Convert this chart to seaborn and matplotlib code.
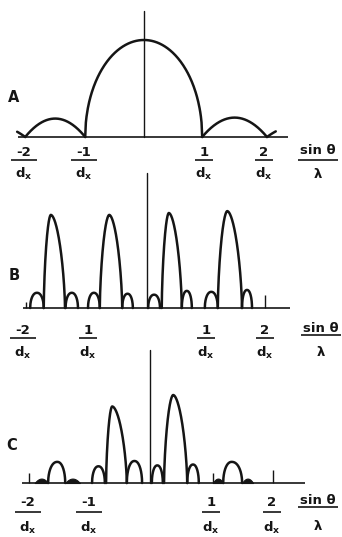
import numpy as np
import pandas as pd
import matplotlib
matplotlib.use("Agg")
import matplotlib.pyplot as plt
import seaborn as sns

# ---------------------------------------------------------------
# Diffraction intensity lobes, x in units of 1/d_x (sin(theta)/lambda),
# heights relative to the tallest lobe of each pattern.
# ---------------------------------------------------------------

# A: single aperture envelope
A_START  = [-3.00, -1.98, -0.98, 0.97, 2.05]
A_PEAK   = [-2.50, -1.48,  0.00, 1.51, 2.57]
A_END    = [-1.98, -0.98,  0.97, 2.05, 3.09]
A_HEIGHT = [ 0.12,  0.19,  1.00, 0.20, 0.12]

# B: grating orders with subsidiary maxima
B_START  = [-1.98, -1.75, -1.38, -1.00, -0.80, -0.42, 0.02, 0.25, 0.59, 0.98, 1.20, 1.61]
B_PEAK   = [-1.865, -1.63, -1.275, -0.90, -0.64, -0.33, 0.12, 0.37, 0.675, 1.09, 1.36, 1.695]
B_END    = [-1.75, -1.39, -1.17, -0.80, -0.42, -0.24, 0.22, 0.59, 0.76, 1.20, 1.61, 1.78]
B_HEIGHT = [ 0.16,  0.98,  0.16,  0.16,  0.98,  0.15, 0.14, 1.00, 0.18, 0.17, 1.02, 0.19]
B_TICK_X = [-2.05, 2.00]
B_TICK_H = [0.06, 0.14]

# C: two strong orders, weak outer orders
C_START  = [-1.67, -0.95, -0.72, -0.38, 0.03, 0.23, 0.61, 1.20]
C_PEAK   = [-1.52, -0.845, -0.62, -0.255, 0.12, 0.38, 0.705, 1.34]
C_END    = [-1.39, -0.74, -0.38, -0.13, 0.21, 0.61, 0.80, 1.51]
C_HEIGHT = [ 0.24,  0.19,  0.87,  0.25, 0.20, 1.00, 0.21, 0.24]
C_LUMP_START  = [-1.89, -1.39, 1.03, 1.51]
C_LUMP_END    = [-1.67, -1.15, 1.20, 1.69]
C_LUMP_HEIGHT = [0.05, 0.05, 0.05, 0.05]
C_TICK_X = [-1.98, 1.03, 2.02]
C_TICK_H = [0.11, 0.11, 0.15]

TICK_VALUES = [-2, -1, 1, 2]
A_TICK_TEXT = ["-2", "-1", "1", "2"]
B_TICK_TEXT = ["-2", "1", "1", "2"]
C_TICK_TEXT = ["-2", "-1", "1", "2"]
PANEL_NAMES = ["A", "B", "C"]

# ---------------------------------------------------------------
INK = "#151515"
W, H, DPI = 342, 537, 100

sns.set_theme(style="white")
plt.rcParams["font.family"] = ["DejaVu Sans"]
plt.rcParams["mathtext.fontset"] = "dejavusans"

fig = plt.figure(figsize=(W / DPI, H / DPI), dpi=DPI)
fig.patch.set_facecolor("white")

# pixel geometry of each panel: centre column, px per 1/d_x, baseline row, px per unit height
LAYOUT = {
    "A": dict(cx=144, sx=60, base=137, sy=97, top=1.30, span=(-2.10, 2.40), clip=(-2.12, 2.20),
              label=(14, 98), num=15, bar=23, den=37, title=(318, 13, 23, 37), nudge=(0, 0)),
    "B": dict(cx=147, sx=59, base=308, sy=95, top=1.42, span=(-2.10, 2.42), clip=(-9, 9),
              label=(14, 276), num=22, bar=30, den=45, title=(321, 20, 27, 44), nudge=(-0.1, 0)),
    "C": dict(cx=150, sx=61, base=483, sy=88, top=1.51, span=(-2.10, 2.54), clip=(-9, 9),
              label=(12, 445), num=20, bar=29, den=45, title=(318, 17, 24, 43), nudge=(0, 0)),
}
SHAPES = {
    "A": ["parab", "parab", "dome", "parab", "parab"],
    "B": ["small", "main", "small", "small", "main", "small",
          "small", "main", "small", "small", "main", "small"],
    "C": ["small", "small", "main", "small", "small", "main", "small", "small"],
}
# (p, q) of the arch profile  h * (1 - |u|^p)^q
SHAPE_PARAMS = {"parab": (2.0, 1.0), "dome": (2.0, 0.5), "main": (1.8, 0.65), "small": (2.2, 0.5)}


def arch(start, peak, end, height, shape, n=90):
    p, q = SHAPE_PARAMS[shape]
    xl = np.linspace(start, peak, n)
    xr = np.linspace(peak, end, n)[1:]
    ul = (peak - xl) / (peak - start)
    ur = (xr - peak) / (end - peak)
    x = np.concatenate([xl, xr])
    u = np.concatenate([ul, ur])
    y = height * np.clip(1 - np.abs(u) ** p, 0, None) ** q
    return x, y


def lobe_frame(starts, peaks, ends, heights, shapes, clip):
    rows = []
    for i, (s, pk, e, h, sh) in enumerate(zip(starts, peaks, ends, heights, shapes)):
        x, y = arch(s, pk, e, h, sh)
        keep = (x >= clip[0]) & (x <= clip[1])
        rows.append(pd.DataFrame({"x": x[keep], "y": y[keep], "lobe": i}))
    return pd.concat(rows, ignore_index=True)


def make_axes(cfg):
    ax = fig.add_axes([0, 0, 1, 1])
    ax.set_xlim(-cfg["cx"] / cfg["sx"], (W - cfg["cx"]) / cfg["sx"])
    ax.set_ylim(-(H - cfg["base"]) / cfg["sy"], cfg["base"] / cfg["sy"])
    ax.set_axis_off()
    ax.patch.set_alpha(0)
    return ax


TEXT_KW = dict(ha="center", va="center", color=INK, fontweight="bold")


def frac_label(ax, cfg, x, top_text, bottom_text, bar_px, size=9.5):
    sy = cfg["sy"]
    ax.text(x, -cfg["num"] / sy, top_text, fontsize=size, **TEXT_KW)
    half = bar_px / 2 / cfg["sx"]
    ax.plot([x - half, x + half], [-cfg["bar"] / sy] * 2, color=INK, lw=1.2,
            solid_capstyle="butt")
    ax.text(x, -cfg["den"] / sy, bottom_text, fontsize=size, **TEXT_KW)


DX = r"d$_{\mathbf{x}}$"

panels = {
    "A": (A_START, A_PEAK, A_END, A_HEIGHT, A_TICK_TEXT),
    "B": (B_START, B_PEAK, B_END, B_HEIGHT, B_TICK_TEXT),
    "C": (C_START, C_PEAK, C_END, C_HEIGHT, C_TICK_TEXT),
}

for name in PANEL_NAMES:
    cfg = LAYOUT[name]
    starts, peaks, ends, heights, tick_text = panels[name]
    ax = make_axes(cfg)

    df = lobe_frame(starts, peaks, ends, heights, SHAPES[name], cfg["clip"])
    sns.lineplot(data=df, x="x", y="y", units="lobe", estimator=None, sort=False,
                 color=INK, linewidth=1.8, legend=False, ax=ax,
                 solid_capstyle="round", solid_joinstyle="round")

    # baseline and central axis
    ax.plot(list(cfg["span"]), [0, 0], color=INK, lw=1.2, solid_capstyle="butt")
    ax.plot([0, 0], [0, cfg["top"]], color=INK, lw=1.0)

    if name == "B":
        ax.vlines(B_TICK_X, 0, B_TICK_H, color=INK, lw=1.0)
    if name == "C":
        ax.vlines(C_TICK_X, 0, C_TICK_H, color=INK, lw=1.0)
        for s, e, h in zip(C_LUMP_START, C_LUMP_END, C_LUMP_HEIGHT):
            xs, ys = arch(s, (s + e) / 2, e, h, "parab")
            ax.fill_between(xs, 0, ys, color=INK, lw=0.8)

    # panel letter
    lx, ly = cfg["label"]
    ax.text((lx - cfg["cx"]) / cfg["sx"], (cfg["base"] - ly) / cfg["sy"], name,
            fontsize=10.5, **TEXT_KW)

    # fractional tick labels
    for i, (t, txt) in enumerate(zip(TICK_VALUES, tick_text)):
        shift = cfg["nudge"][0] if i == 0 else 0
        frac_label(ax, cfg, t + shift, txt, DX, 26 if len(txt) > 1 else 18)

    # sin(theta)/lambda axis title
    tx, tnum, tbar, tden = cfg["title"]
    title_cfg = dict(cfg, num=tnum, bar=tbar, den=tden)
    frac_label(ax, title_cfg, (tx - cfg["cx"]) / cfg["sx"], "sin θ", "λ", 40)

fig.savefig("out.png", dpi=DPI, facecolor="white")
